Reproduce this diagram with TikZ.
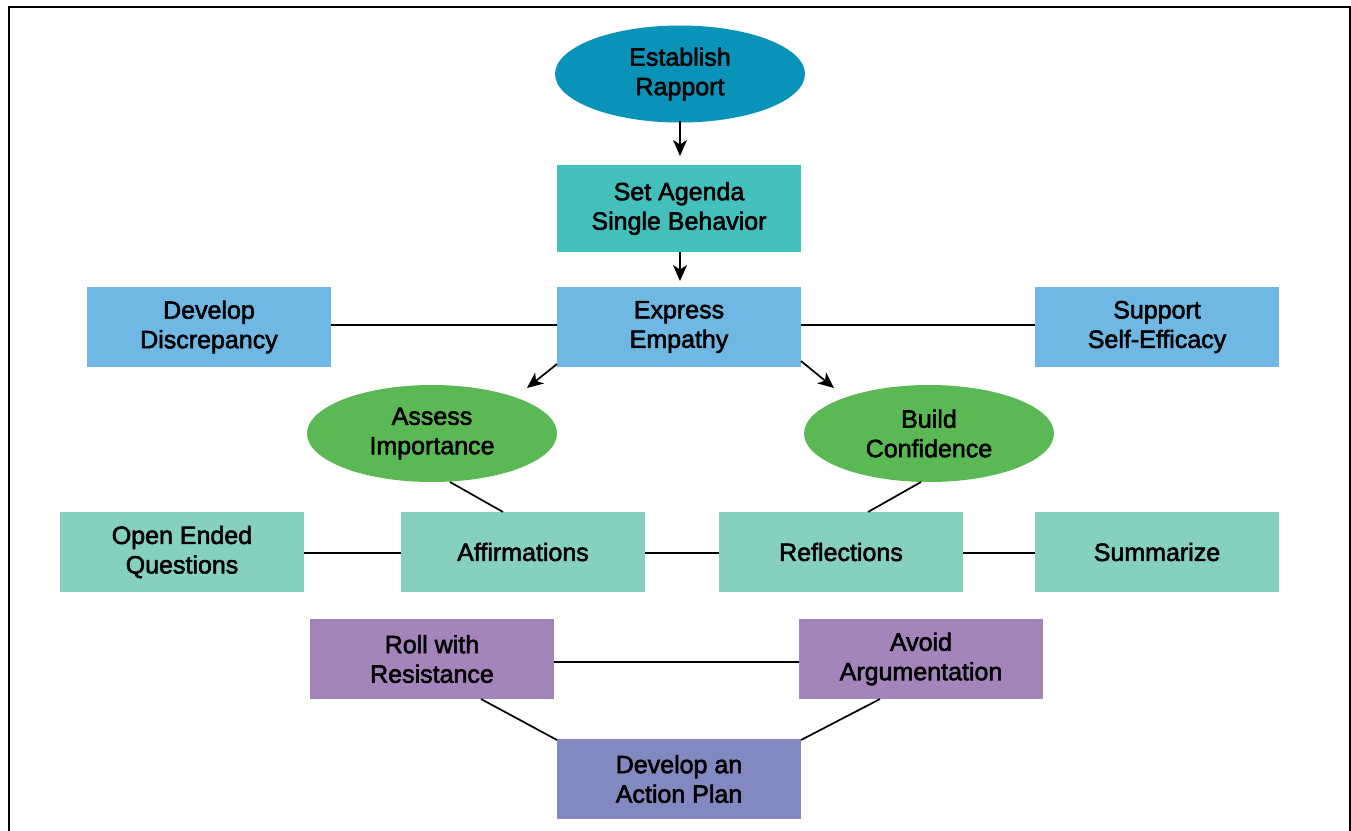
\documentclass[tikz,border=0pt]{standalone}
\usepackage{fontspec}
\setmainfont{Liberation Sans}[FakeBold=2.2]
\usetikzlibrary{shapes.geometric,arrows.meta}
\definecolor{cEst}{HTML}{0A93B8}
\definecolor{cAgenda}{HTML}{43C0BC}
\definecolor{cBlue}{HTML}{6FB8E4}
\definecolor{cGreen}{HTML}{5BB955}
\definecolor{cTeal}{HTML}{86D0C0}
\definecolor{cPurple}{HTML}{A384BB}
\definecolor{cPlan}{HTML}{8288C0}
\tikzset{
  every node/.style={font=\fontsize{25}{29.5}\selectfont, align=center, text=black, inner sep=0pt},
  boxnode/.style={rectangle, minimum width=244pt, minimum height=80pt},
  ellnode/.style={ellipse, minimum width=250pt, minimum height=97pt},
  conn/.style={line width=1.7pt, black},
  arr/.style={conn, -{Stealth[length=16pt,width=14pt,inset=4.5pt]}},
}
\begin{document}
\begin{tikzpicture}[x=1pt,y=-1pt]
\useasboundingbox (0,0) rectangle (1351,830);
\fill[white] (0,0) rectangle (1351,830);
\draw[line width=2.4pt] (9,831) -- (9,7) -- (1350,7) -- (1350,831);

\node[ellnode, fill=cEst] (est) at (680,74) {Establish\\Rapport};
\node[boxnode, fill=cAgenda, minimum height=87pt] (agenda) at (679,208.5) {Set Agenda\\Single Behavior};
\node[boxnode, fill=cBlue] (emp) at (679,327) {Express\\Empathy};
\node[boxnode, fill=cBlue] (disc) at (209,327) {Develop\\Discrepancy};
\node[boxnode, fill=cBlue] (eff) at (1157,327) {Support\\Self-Efficacy};
\node[ellnode, fill=cGreen] (imp) at (432,433.5) {Assess\\Importance};
\node[ellnode, fill=cGreen] (conf) at (929,433.5) {Build\\Confidence};
\node[boxnode, fill=cTeal] (oeq) at (182,552) {Open Ended\\Questions};
\node[boxnode, fill=cTeal] (aff) at (523,552) {Affirmations};
\node[boxnode, fill=cTeal] (refl) at (841,552) {Reflections};
\node[boxnode, fill=cTeal] (summ) at (1157,552) {Summarize};
\node[boxnode, fill=cPurple] (roll) at (432,659) {Roll with\\Resistance};
\node[boxnode, fill=cPurple] (avoid) at (921,659) {Avoid\\Argumentation};
\node[boxnode, fill=cPlan] (plan) at (679,779) {Develop an\\Action Plan};

\coordinate (a1s) at (680,121);
\coordinate (a1e) at (680,156);
\coordinate (a2s) at (680,252);
\coordinate (a2e) at (680,281);
\draw[arr] (a1s) -- (a1e);
\draw[arr] (a2s) -- (a2e);
\coordinate (a3s) at (557,364);
\coordinate (a3e) at (527,388);
\coordinate (a4s) at (801,361);
\coordinate (a4e) at (834,388);
\draw[arr] (a3s) -- (a3e);
\draw[arr] (a4s) -- (a4e);

\draw[conn] (disc.east |- 0,325) -- (emp.west |- 0,325);
\draw[conn] (emp.east |- 0,325) -- (eff.west |- 0,325);
\draw[conn] (oeq.east |- 0,553) -- (aff.west |- 0,553);
\draw[conn] (aff.east |- 0,553) -- (refl.west |- 0,553);
\draw[conn] (refl.east |- 0,553) -- (summ.west |- 0,553);
\draw[conn] (roll.east |- 0,662) -- (avoid.west |- 0,662);

\coordinate (i1) at (450,482);
\coordinate (i2) at (503,512);
\draw[conn] (i1) -- (i2);
\coordinate (c1) at (921,482);
\coordinate (c2) at (868,512);
\draw[conn] (c1) -- (c2);
\coordinate (r1) at (481,699);
\coordinate (r2) at (557,740);
\draw[conn] (r1) -- (r2);
\coordinate (v1) at (880,699);
\coordinate (v2) at (801,740);
\draw[conn] (v1) -- (v2);
\end{tikzpicture}
\end{document}
